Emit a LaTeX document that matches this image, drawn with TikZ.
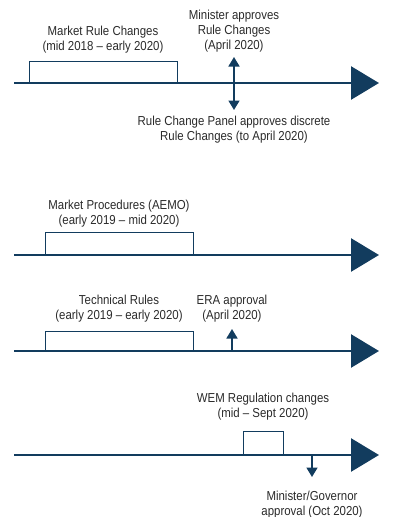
\documentclass[tikz,border=0pt]{standalone}
\usepackage{fontspec}
\setmainfont[FakeStretch=0.88]{Liberation Sans}
\usetikzlibrary{arrows.meta}
\definecolor{navy}{HTML}{123C5E}
\definecolor{txt}{HTML}{2A2A2A}
\tikzset{
  tl/.style={draw=navy, line width=2.6pt, -{Triangle[width=33pt,length=28pt]}},
  period/.style={draw=navy, line width=1pt},
  lab/.style={text=txt, font=\fontsize{13}{15}\selectfont, align=center, inner sep=0pt},
  milestone/.style={draw=navy, line width=1.6pt, -{Triangle[width=11pt,length=9.5pt]}},
}
\begin{document}
\begin{tikzpicture}[x=1pt,y=-1pt]
\useasboundingbox (0,0) rectangle (410,517);
% Timeline 1
\coordinate (s1) at (14,83); \coordinate (e1) at (379,83);
\draw[period] (29,83) -- (29,61) -- (177,61) -- (177,83);
\draw[tl] (s1) -- (e1);
\coordinate (m1) at (234,83);
\coordinate (m1u) at (234,57); \coordinate (m1d) at (234,110);
\draw[milestone] (m1) -- (m1u);
\draw[milestone] (m1) -- (m1d);
\node[lab] (t1) at (103,39.5) {Market Rule Changes\\(mid 2018 -- early 2020)};
\node[lab] (t1m) at (234,31.5) {Minister approves\\Rule Changes\\(April 2020)};
\node[lab] (t1p) at (234,130) {Rule Change Panel approves discrete\\Rule Changes (to April 2020)};
% Timeline 2
\coordinate (s2) at (14,255); \coordinate (e2) at (379,255);
\draw[period] (45,255) -- (45,232) -- (193,232) -- (193,255);
\draw[tl] (s2) -- (e2);
\node[lab] (t2) at (119,214) {Market Procedures (AEMO)\\(early 2019 -- mid 2020)};
% Timeline 3
\coordinate (s3) at (14,351); \coordinate (e3) at (379,351);
\draw[period] (45,351) -- (45,331) -- (193,331) -- (193,351);
\draw[tl] (s3) -- (e3);
\coordinate (m3) at (232,351); \coordinate (m3u) at (232,329);
\draw[milestone] (m3) -- (m3u);
\node[lab] (t3) at (119,308.5) {Technical Rules\\(early 2019 -- early 2020)};
\node[lab] (t3e) at (232,308.5) {ERA approval\\(April 2020)};
% Timeline 4
\coordinate (s4) at (14,455); \coordinate (e4) at (379,455);
\draw[period] (243,455) -- (243,431) -- (283,431) -- (283,455);
\draw[tl] (s4) -- (e4);
\coordinate (m4) at (312,455); \coordinate (m4d) at (312,477);
\draw[milestone] (m4) -- (m4d);
\node[lab] (t4) at (263,406.5) {WEM Regulation changes\\(mid -- Sept 2020)};
\node[lab] (t4m) at (312,504.5) {Minister/Governor\\approval (Oct 2020)};
\end{tikzpicture}
\end{document}
